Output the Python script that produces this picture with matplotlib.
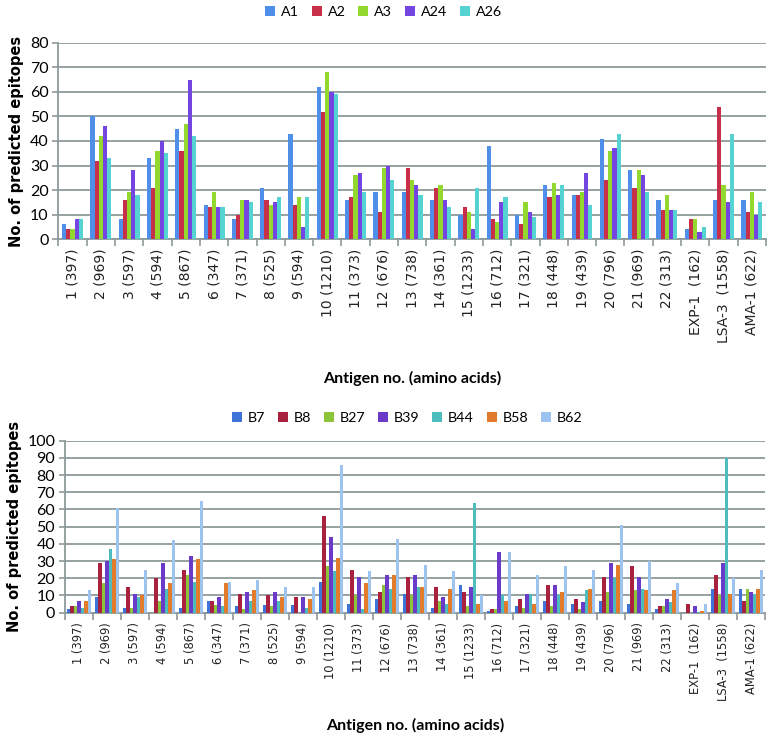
import numpy as np
import matplotlib
matplotlib.use("Agg")
import matplotlib.pyplot as plt
from matplotlib.ticker import MultipleLocator, FixedLocator

labels = ["1 (397)", "2 (969)", "3 (597)", "4 (594)", "5 (867)", "6 (347)", "7 (371)",
          "8 (525)", "9 (594)", "10 (1210)", "11 (373)", "12 (676)", "13 (738)", "14 (361)",
          "15 (1233)", "16 (712)", "17 (321)", "18 (448)", "19 (439)", "20 (796)", "21 (969)",
          "22 (313)", "EXP-1  (162)", "LSA-3  (1558)", "AMA-1 (622)"]

# Top chart (HLA-A supertypes)
A1 = [6, 50, 8, 33, 45, 14, 8, 21, 43, 62, 16, 19, 19, 16, 10, 38, 10, 22, 18, 41, 28, 16, 4, 16, 16]
A2 = [4, 32, 16, 21, 36, 13, 10, 16, 14, 52, 17, 11, 29, 21, 13, 8, 6, 17, 18, 24, 21, 12, 8, 54, 11]
A3 = [4, 42, 19, 36, 47, 19, 16, 14, 17, 68, 26, 29, 24, 22, 11, 7, 15, 23, 19, 36, 28, 18, 8, 22, 19]
A24 = [8, 46, 28, 40, 65, 13, 16, 15, 5, 60, 27, 30, 22, 16, 4, 15, 11, 18, 27, 37, 26, 12, 3, 15, 10]
A26 = [8, 33, 18, 35, 42, 13, 15, 17, 17, 59, 19, 24, 18, 13, 21, 17, 9, 22, 14, 43, 19, 12, 5, 43, 15]

# Bottom chart (HLA-B supertypes)
B7 = [2, 9, 3, 0, 3, 7, 4, 4.5, 4.5, 18, 5, 8, 11, 3, 16, 1, 4, 7, 5, 7, 5, 2, 0, 14, 14]
B8 = [4, 29, 15, 20, 25, 7, 11, 10, 9, 56, 25, 12, 21, 15, 12, 2, 8, 16, 8, 21, 27, 4, 5, 22, 7]
B27 = [4, 17, 3, 7, 22, 4.5, 2, 4, 0, 27, 10, 16, 10, 7, 4, 2, 3, 4, 2, 12, 13, 4, 0, 10, 14]
B39 = [7, 30, 11, 29, 33, 9, 12, 12, 9, 44, 21, 22, 22, 9, 15, 35, 11, 16, 6, 29, 21, 8, 4, 29, 12]
B44 = [3, 37, 9, 14, 18, 4, 7, 7, 3, 24, 2, 14, 15, 5, 64, 10, 11, 10, 13, 20, 14, 6, 0.5, 90, 11]
B58 = [7, 31, 10, 17, 31, 17, 13, 9, 8, 32, 17, 22, 15, 14, 5, 7, 5, 12, 14, 28, 13, 13, 1, 11, 14]
B62 = [13, 61, 25, 42, 65, 18, 19, 15, 15, 86, 24, 43, 28, 24, 10, 35, 22, 27, 25, 51, 30, 17, 5, 20, 25]

top_series = [("A1", A1), ("A2", A2), ("A3", A3), ("A24", A24), ("A26", A26)]
top_colors = ["#4F8FEA", "#C8304A", "#92D82E", "#7445E0", "#55D3D3"]
bot_series = [("B7", B7), ("B8", B8), ("B27", B27), ("B39", B39), ("B44", B44), ("B58", B58), ("B62", B62)]
bot_colors = ["#3E73D8", "#A8213E", "#8CC43A", "#6A3AC8", "#4CBDBC", "#E27B2C", "#9DC3F0"]

GRID = "#8E9A9A"
LABEL_FONT = ["Liberation Sans Narrow", "Lato", "DejaVu Sans"]
TICK_FONT = ["Lato", "DejaVu Sans"]

fig = plt.figure(figsize=(7.67, 7.46), dpi=100)


def draw(ax, series, colors, ymax, bar_frac, legend_x, legend_y, xtick_size, xlab_pad):
    n = len(labels)
    x = np.arange(n)
    k = len(series)
    w = bar_frac / k
    handles = []
    for i, ((name, vals), c) in enumerate(zip(series, colors)):
        h = ax.bar(x - bar_frac / 2 + w * (i + 0.5), vals, width=w, color=c,
                   label=name, linewidth=0, zorder=3)
        handles.append(h)
    ax.set_xlim(-0.5, n - 0.5)
    ax.set_ylim(0, ymax)
    ax.yaxis.set_major_locator(MultipleLocator(10))
    ax.grid(axis="y", color=GRID, linewidth=1.3, zorder=0)
    ax.set_axisbelow(True)
    for s in ["top", "right"]:
        ax.spines[s].set_visible(False)
    ax.spines["left"].set_color(GRID)
    ax.spines["bottom"].set_color(GRID)
    ax.spines["left"].set_linewidth(1.3)
    ax.spines["bottom"].set_linewidth(1.3)
    ax.set_xticks(x)
    ax.set_xticklabels(labels, rotation=90, fontsize=xtick_size, family="DejaVu Sans",
                       color="#222222")
    ax.tick_params(axis="x", which="major", length=0, pad=7)
    ax.xaxis.set_minor_locator(FixedLocator(np.arange(n + 1) - 0.5))
    ax.tick_params(axis="x", which="minor", length=5, color=GRID, width=1.2)
    ax.tick_params(axis="y", length=4, color=GRID, width=1.2, labelsize=11.5, pad=3)
    for t in ax.get_yticklabels():
        t.set_family(TICK_FONT)
    ax.set_ylabel("No. of predicted epitopes", fontsize=10.5, fontweight="bold",
                  family="DejaVu Sans", labelpad=4)
    ax.set_xlabel("Antigen no. (amino acids)", fontsize=11.5, fontweight="bold",
                  family=LABEL_FONT, labelpad=xlab_pad)
    leg = fig.legend(handles=handles, loc="center", bbox_to_anchor=(legend_x, legend_y),
                     ncol=k, frameon=False, handlelength=0.7,
                     handleheight=0.7, handletextpad=0.4, columnspacing=0.9,
                     prop={"family": TICK_FONT, "size": 10.3})
    return leg


ax1 = fig.add_axes([0.0761, 0.6796, 0.9226, 0.2628])
draw(ax1, top_series, top_colors, 80, 0.74, 0.50, 1 - 12 / 746, 10.0, 20)
ax2 = fig.add_axes([0.0847, 0.1787, 0.9127, 0.2306])
draw(ax2, bot_series, bot_colors, 100, 0.88, 0.531, 1 - 418 / 746, 8.3, 12)

fig.savefig("out.png", dpi=100)
